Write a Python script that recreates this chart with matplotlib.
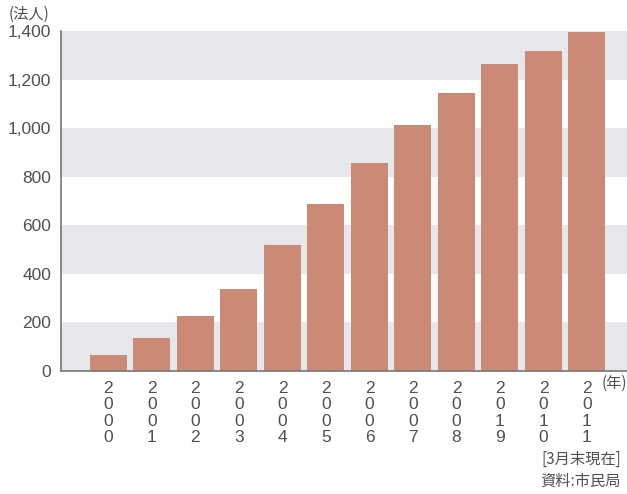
import matplotlib
matplotlib.use("Agg")
from matplotlib import pyplot as plt

plt.rcParams['font.family'] = ['Noto Sans CJK JP', 'DejaVu Sans']

years = ["2000", "2001", "2002", "2003", "2004", "2005",
         "2006", "2007", "2008", "2019", "2010", "2011"]
counts = [66, 136, 226, 338, 519, 688, 856, 1013, 1145, 1264, 1319, 1395]
yticks = [0, 200, 400, 600, 800, 1000, 1200, 1400]

bar_color = "#cb8a75"
band_color = "#e6e7ea"
text_color = "#505050"
num_font = ['Liberation Sans', 'DejaVu Sans']

fig = plt.figure(figsize=(6.27, 4.94), dpi=100)
ax = fig.add_axes([0.0973, 0.249, 0.9027, 0.688])

# alternating gray bands
for i in range(0, len(yticks) - 1, 2):
    ax.axhspan(yticks[i], yticks[i + 1], color=band_color, zorder=0, lw=0)

x = list(range(len(years)))
ax.bar(x, counts, width=0.85, color=bar_color, zorder=2)

ax.set_ylim(0, 1400)
ax.set_xlim(-1.09, 11.92)
ax.set_yticks(yticks)
ax.set_yticklabels([f"{v:,}" for v in yticks], fontsize=12.5,
                   color=text_color, family=num_font)
ax.set_xticks(x)
ax.set_xticklabels(["\n".join(y) for y in years], fontsize=12.5,
                   color=text_color, linespacing=1.12, family=num_font)
ax.tick_params(length=0, pad=7)

for s in ["top", "right"]:
    ax.spines[s].set_visible(False)
for s in ["left", "bottom"]:
    ax.spines[s].set_color("#777777")
    ax.spines[s].set_linewidth(1.2)

fig.text(0.013, 0.972, "(法人)", fontsize=11, color=text_color, va="center")
fig.text(0.960, 0.225, "(年)", fontsize=11, color=text_color, va="center")
fig.text(0.99, 0.070, "[3月末現在]", fontsize=11, color=text_color,
         ha="right", va="center")
fig.text(0.99, 0.025, "資料:市民局", fontsize=11, color=text_color,
         ha="right", va="center")

fig.savefig("out.png", dpi=100)
